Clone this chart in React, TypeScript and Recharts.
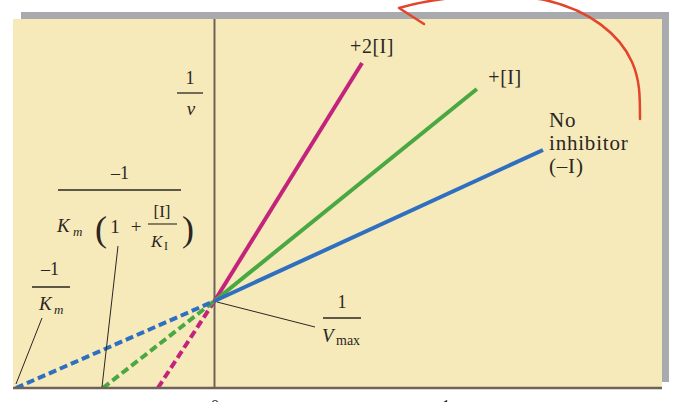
import { LineChart, Line, XAxis, YAxis, ReferenceLine } from 'recharts'

// Lineweaver-Burk plot, competitive inhibition (units: 1/[S] on x, 1/v on y)
const seriesNames = ['No inhibitor', '+[I]', '+2[I]']
const seriesColors = ['#2f6fbf', '#4aa843', '#c4237c']
// -1/Km (apparent) for each series, where the dashed line meets the x axis
const xIntercepts = [-0.856, -0.481, -0.244]
// 1/Vmax, shared by all three lines
const yIntercept = 1
// where each solid line stops
const endX = [1.416, 1.131, 0.636]
const endY = [2.736, 3.437, 3.736]

const X_DOMAIN: [number, number] = [-0.8685, 1.929]
const Y_DOMAIN: [number, number] = [0, 4.241]

const serif = '"Liberation Serif", "DejaVu Serif", serif'
const ink = '#2a2622'

function Annotations() {
  return (
    <svg
      width={676}
      height={402}
      style={{ position: 'absolute', left: 0, top: 0, pointerEvents: 'none' }}
      fontFamily={serif}
      fill={ink}
    >
      {/* series labels */}
      <text x={372} y={53} fontSize={20} textAnchor="middle" letterSpacing={0.5}>
        +2[I]
      </text>
      <text x={505} y={84} fontSize={20} textAnchor="middle" letterSpacing={0.5}>
        +[I]
      </text>
      <text x={549} y={127} fontSize={21} letterSpacing={0.8}>No</text>
      <text x={549} y={150} fontSize={21} letterSpacing={0.8}>inhibitor</text>
      <text x={549} y={173} fontSize={21} letterSpacing={0.8}>(–I)</text>

      {/* 1/v */}
      <text x={190} y={84} fontSize={18} textAnchor="middle">1</text>
      <line x1={177} x2={203} y1={93} y2={93} stroke={ink} strokeWidth={1.3} />
      <text x={191} y={115} fontSize={19} textAnchor="middle" fontStyle="italic">v</text>

      {/* -1 / Km(1 + [I]/KI) */}
      <text x={120} y={179} fontSize={18} textAnchor="middle">–1</text>
      <line x1={58} x2={181} y1={190} y2={190} stroke={ink} strokeWidth={1.3} />
      <text x={57} y={232} fontSize={19} fontStyle="italic">K</text>
      <text x={73} y={236} fontSize={13} fontStyle="italic">m</text>
      <text x={95} y={241} fontSize={36} fontWeight={300}>(</text>
      <text x={115} y={233} fontSize={19} textAnchor="middle">1</text>
      <text x={136} y={233} fontSize={19} textAnchor="middle">+</text>
      <text x={162} y={217} fontSize={17} textAnchor="middle">[I]</text>
      <line x1={148} x2={177} y1={224} y2={224} stroke={ink} strokeWidth={1.1} />
      <text x={151} y={247} fontSize={17} fontStyle="italic">K</text>
      <text x={164} y={250} fontSize={12}>I</text>
      <text x={182} y={241} fontSize={36} fontWeight={300}>)</text>

      {/* -1 / Km */}
      <text x={50} y={275} fontSize={18} textAnchor="middle">–1</text>
      <line x1={32} x2={70} y1={287} y2={287} stroke={ink} strokeWidth={1.3} />
      <text x={39} y={310} fontSize={19} fontStyle="italic">K</text>
      <text x={54} y={314} fontSize={13} fontStyle="italic">m</text>

      {/* 1 / Vmax */}
      <text x={342} y={308} fontSize={18} textAnchor="middle">1</text>
      <line x1={323} x2={361} y1={318} y2={318} stroke={ink} strokeWidth={1.3} />
      <text x={322} y={342} fontSize={19} fontStyle="italic">V</text>
      <text x={336} y={345} fontSize={14}>max</text>

      {/* leader lines */}
      <line x1={42} y1={318} x2={16} y2={384} stroke={ink} strokeWidth={1} />
      <line x1={118} y1={246} x2={102} y2={387} stroke={ink} strokeWidth={1} />
      <line x1={217} y1={302} x2={315} y2={327} stroke={ink} strokeWidth={1} />

      {/* axis tick labels, mostly below the window edge as in the source */}
      <text x={215} y={413} fontSize={18} textAnchor="middle">0</text>
      <text x={446} y={413} fontSize={18} textAnchor="middle">1</text>

      {/* hand-drawn red arrow */}
      <path
        d="M640,119 C640,96 640,80 632,62 C620,35 590,10 545,0 C500,-8 440,-4 399,8 L424,24"
        fill="none"
        stroke="#e2452b"
        strokeWidth={2.5}
        strokeLinecap="round"
        strokeLinejoin="round"
      />
    </svg>
  )
}

export default function App() {
  const dashed = xIntercepts.map((xi) => [
    { x: xi, y: 0 },
    { x: 0, y: yIntercept },
  ])
  const solid = endX.map((ex, i) => [
    { x: 0, y: yIntercept },
    { x: ex, y: endY[i] },
  ])
  // draw magenta first so blue sits on top at the crossing
  const order = [2, 1, 0]

  return (
    <div
      style={{
        position: 'absolute',
        left: 0,
        top: 0,
        width: 676,
        height: 402,
        overflow: 'hidden',
        background: '#ffffff',
      }}
    >
      {/* drop shadow and paper */}
      <div style={{ position: 'absolute', left: 21, top: 12, width: 648, height: 370, background: '#a9aaad' }} />
      <div style={{ position: 'absolute', left: 13, top: 19, width: 649, height: 369, background: '#f6eabb' }} />
      <div style={{ position: 'absolute', left: 0, top: 0 }}>
        <LineChart width={676} height={402} margin={{ top: 19, right: 14, bottom: 14, left: 13 }}>
          <XAxis type="number" dataKey="x" domain={X_DOMAIN} allowDataOverflow hide />
          <YAxis type="number" dataKey="y" domain={Y_DOMAIN} allowDataOverflow hide />
          <ReferenceLine x={0} stroke="#6e6356" strokeWidth={2} />
          {order.map((i) => (
            <Line
              key={`d-${i}`}
              data={dashed[i]}
              dataKey="y"
              name={seriesNames[i]}
              type="linear"
              stroke={seriesColors[i]}
              strokeWidth={4}
              strokeDasharray="8 4"
              dot={false}
              activeDot={false}
              isAnimationActive={false}
            />
          ))}
          {order.map((i) => (
            <Line
              key={`s-${i}`}
              data={solid[i]}
              dataKey="y"
              name={seriesNames[i]}
              type="linear"
              stroke={seriesColors[i]}
              strokeWidth={4}
              dot={false}
              activeDot={false}
              isAnimationActive={false}
            />
          ))}
          <ReferenceLine y={0} stroke="#6e6356" strokeWidth={2.5} />
        </LineChart>
      </div>
      <Annotations />
    </div>
  )
}
